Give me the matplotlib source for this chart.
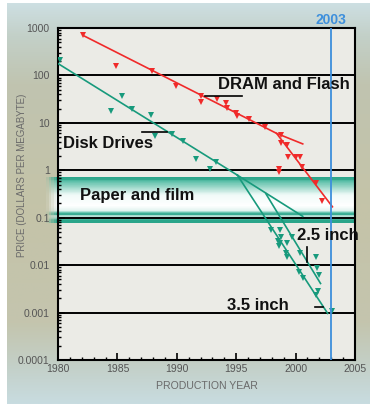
import numpy as np
import matplotlib
matplotlib.use("Agg")
import matplotlib.pyplot as plt
from matplotlib.colors import LinearSegmentedColormap
from matplotlib.ticker import MultipleLocator, LogLocator, NullFormatter

plt.rcParams['font.family'] = ['Liberation Sans', 'DejaVu Sans']

# DRAM and Flash price points (year, $/MB)
dram_years = [1982.1, 1984.9, 1987.9, 1989.9, 1992.0, 1992.0, 1993.4, 1994.1, 1994.25,
              1994.95, 1995.1, 1996.1, 1997.4, 1998.75, 1998.75, 1999.25, 1999.4,
              2000.0, 2000.4, 2000.5, 1998.6, 1998.6, 2001.7, 2002.2]
dram_prices = [700, 160, 125, 60, 37, 28, 32, 26, 21,
               16, 14, 12, 8.3, 5.5, 3.8, 3.4, 1.9,
               1.9, 1.9, 1.2, 1.08, 0.9, 0.55, 0.23]
dram_trend_years = [1982.1, 1998.4, 2003.1]
dram_trend_prices = [700, 6.0, 0.17]
dram_branch_years = [1998.4, 2000.6]
dram_branch_prices = [6.0, 3.6]

# disk drive price points
disk_years = [1980.2, 1984.5, 1985.4, 1986.2, 1987.8, 1988.2, 1989.6, 1990.5, 1991.6,
              1992.8, 1993.3, 1997.9, 1998.7, 1998.7, 1998.75, 1998.6, 1998.5, 1999.3,
              1999.2, 1999.25, 1999.7, 2000.4, 2000.3, 2000.6, 2001.7, 2001.8, 2002.0,
              2001.9, 2001.7, 2003.1]
disk_prices = [210, 18, 37, 19.5, 14.5, 5.2, 5.8, 4.2, 1.7,
               1.06, 1.5, 0.056, 0.056, 0.029, 0.04, 0.025, 0.033, 0.029,
               0.018, 0.015, 0.04, 0.018, 0.0072, 0.0053, 0.0145, 0.0085, 0.0062,
               0.0028, 0.0023, 0.00107]
disk_trend_years = [1980, 1995.1]
disk_trend_prices = [178, 0.79]
disk_shallow_years = [1995.1, 2000.6]
disk_shallow_prices = [0.79, 0.107]
disk_35_years = [1995.1, 2002.7]
disk_35_prices = [0.79, 0.00096]
disk_25_years = [1997.5, 2002.1]
disk_25_prices = [0.32, 0.0041]

# paper and film band
paper_low, paper_high = 0.076, 0.71

year_ticks = [1980, 1985, 1990, 1995, 2000, 2005]
year_labels = ['1980', '1985', '1990', '1995', '2000', '2005']
price_ticks = [1e-4, 1e-3, 1e-2, 1e-1, 1, 10, 100, 1000]
price_labels = ['0.0001', '0.001', '0.01', '0.1', '1', '10', '100', '1000']

red = '#f02a2a'
green = '#179a7c'
blue = '#3d8fdc'
teal = '#2aa58a'

fig = plt.figure(figsize=(3.76, 4.04), dpi=100)

# page background gradient
bg = fig.add_axes([7/376, 0, 363/376, 401/404], zorder=-10)
bg_cmap = LinearSegmentedColormap.from_list('bg', [
    (0.0, '#cddfe2'), (0.08, '#c3d0c8'), (0.2, '#c0c4b0'), (0.5, '#c4c3a8'),
    (0.8, '#c4c5ae'), (0.9, '#c3cfc6'), (1.0, '#c8dce0')])
bg.imshow(np.linspace(0, 1, 256).reshape(-1, 1), cmap=bg_cmap, aspect='auto',
          extent=[0, 1, 0, 1], origin='upper')
bg.axis('off')

ax = fig.add_axes([58/376, 1 - 360/404, 297/376, 332/404])
ax.set_facecolor('#ebebe6')
ax.set_yscale('log')

# paper and film band (gradient top to bottom, fading in at the left)
band_cmap = LinearSegmentedColormap.from_list('band', [
    (0.0, teal), (0.05, '#35a88e'), (0.08, '#5bbfa8'), (0.23, '#a6dccf'),
    (0.38, '#f0faf8'), (0.62, '#ffffff'), (0.73, '#dff2ee'), (0.77, '#5cbfa8'),
    (0.8, teal), (0.84, '#c8e8e0'), (0.9, '#7ccab8'), (0.92, teal), (1.0, teal)])
nrow, ncol = 120, 120
y_edges = np.logspace(np.log10(paper_high), np.log10(paper_low), nrow + 1)
x_edges = np.linspace(1979.0, 2005.1, ncol + 1)
rows = band_cmap((np.arange(nrow) + 0.5) / nrow)
band = np.repeat(rows[:, None, :], ncol, axis=1)
x_mid = (x_edges[:-1] + x_edges[1:]) / 2
band[:, :, 3] = np.clip((x_mid - 1979.0) / 1.0, 0, 1)[None, :]
ax.pcolormesh(x_edges, y_edges, band, shading='flat', zorder=1, clip_on=False,
              edgecolors='none', antialiased=False)

ax.set_xlim(1980, 2005)
ax.set_ylim(1e-4, 1e3)

ax.set_axisbelow('line')
ax.yaxis.grid(True, which='major', color='black', lw=1.4)
ax.xaxis.grid(False)

ax.plot(dram_trend_years, dram_trend_prices, color=red, lw=1.2, zorder=3)
ax.plot(dram_branch_years, dram_branch_prices, color=red, lw=1.2, zorder=3)
ax.plot(dram_years, dram_prices, 'v', color=red, ms=5, mew=0, zorder=4)

ax.plot(disk_trend_years, disk_trend_prices, color=green, lw=1.2, zorder=3)
ax.plot(disk_shallow_years, disk_shallow_prices, color=green, lw=1.2, zorder=3)
ax.plot(disk_35_years, disk_35_prices, color=green, lw=1.2, zorder=3)
ax.plot(disk_25_years, disk_25_prices, color=green, lw=1.2, zorder=3)
ax.plot(disk_years, disk_prices, 'v', color=green, ms=5, mew=0, zorder=4)

ax.axvline(2003, color=blue, lw=1.3, zorder=5)
ax.text(2003, 1.024, '2003', transform=ax.get_xaxis_transform(), ha='center',
        va='center', fontsize=10, fontweight='bold', color=blue)

# leader lines
ax.plot([1992.4, 1995.5], [37, 37], color='black', lw=1.2, zorder=5)
ax.plot([1987.1, 1989.2], [6.5, 6.5], color='black', lw=1.2, zorder=5)
ax.plot([2001.0, 2001.0], [0.0245, 0.0117], color='black', lw=1.2, zorder=5)
ax.plot([2001.6, 2002.3], [0.0013, 0.0013], color='black', lw=1.2, zorder=5)

lab = dict(fontsize=12, fontweight='bold', color='#111111', ha='left', va='center', zorder=6)
ax.text(1993.5, 63, 'DRAM and Flash', **lab)
ax.text(1980.4, 3.75, 'Disk Drives', **lab)
ax.text(1981.85, 0.3, 'Paper and film', **lab)
ax.text(2000.1, 0.042, '2.5 inch', **lab)
ax.text(1994.25, 0.00142, '3.5 inch', **lab)

ax.set_xticks(year_ticks, labels=year_labels)
ax.xaxis.set_minor_locator(MultipleLocator(1))
ax.set_yticks(price_ticks, labels=price_labels)
ax.yaxis.set_minor_locator(LogLocator(base=10, subs=np.arange(2, 10)))
ax.yaxis.set_minor_formatter(NullFormatter())
ax.tick_params(which='both', direction='in', labelsize=7.5, labelcolor='#555555')
ax.tick_params(which='major', length=5, width=1.2)
ax.tick_params(which='minor', length=2.5, width=1)
ax.tick_params(axis='x', pad=3)
ax.tick_params(axis='y', pad=6)
for s in ax.spines.values():
    s.set_linewidth(1.5)
    s.set_color('black')

ax.text(0.5, -0.078, 'PRODUCTION YEAR', transform=ax.transAxes, ha='center',
        va='center', fontsize=7.6, color='#6a6a6a')
ax.text(-0.121, 0.557, 'PRICE (DOLLARS PER MEGABYTE)', transform=ax.transAxes,
        rotation=90, ha='center', va='center', fontsize=7, color='#6a6a6a')

fig.savefig('out.png', dpi=100)
